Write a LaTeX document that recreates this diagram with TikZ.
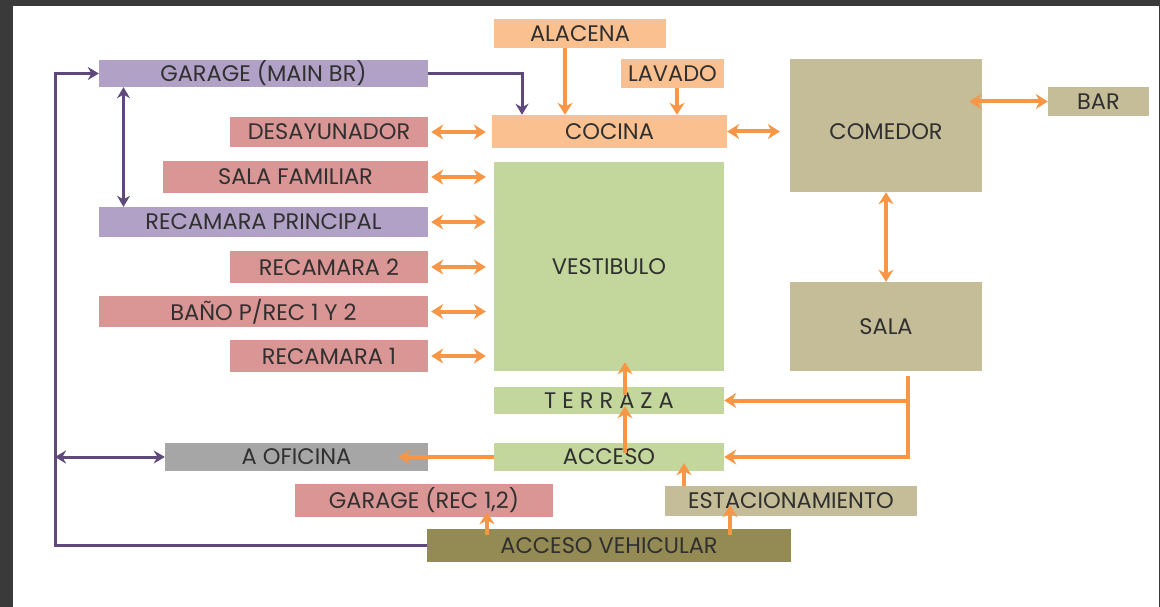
\documentclass[tikz,border=0pt]{standalone}
\usepackage{fontspec}
\setmainfont{Poppins}
\usetikzlibrary{arrows.meta,calc,positioning}

\definecolor{marco}{HTML}{3A3A3A}
\definecolor{lila}{HTML}{B2A1C7}
\definecolor{rosa}{HTML}{D99694}
\definecolor{naranja}{HTML}{FAC090}
\definecolor{verde}{HTML}{C3D69B}
\definecolor{arena}{HTML}{C4BD97}
\definecolor{gris}{HTML}{A6A6A6}
\definecolor{olivo}{HTML}{948A54}
\definecolor{flecha}{HTML}{F79646}
\definecolor{morado}{HTML}{5F497A}
\definecolor{letra}{HTML}{303030}

\tikzset{
  room/.style={rectangle, inner sep=0pt, text=letra, font=\fontsize{22.5}{22.5}\selectfont},
  oarr/.style={draw=flecha, line width=4pt, -{Stealth[length=12pt,width=15pt]}},
  obi/.style={oarr, {Stealth[length=12pt,width=15pt]}-{Stealth[length=12pt,width=15pt]}},
  parr/.style={draw=morado, line width=3pt, -{Stealth[length=11pt,width=13pt]}},
  pbi/.style={parr, {Stealth[length=11pt,width=13pt]}-{Stealth[length=11pt,width=13pt]}},
}

\begin{document}
\begin{tikzpicture}[x=1pt, y=-1pt]
    \useasboundingbox (0,0) rectangle (1160,607);
    \fill[marco] (0,0) rectangle (1160,607);
    \fill[white] (13,6) rectangle (1159,607);

    % left column
    \node[room, fill=lila,  minimum width=329pt, minimum height=27pt] (garagemain) at (263.5,73.5) {GARAGE (MAIN BR)};
    \node[room, fill=rosa,  minimum width=198pt, minimum height=30pt] (desayunador) at (329,132)   {DESAYUNADOR};
    \node[room, fill=rosa,  minimum width=265pt, minimum height=32pt] (salafam)    at (295.5,177)  {SALA FAMILIAR};
    \node[room, fill=lila,  minimum width=329pt, minimum height=30pt] (recprin)    at (263.5,222)  {RECAMARA PRINCIPAL};
    \node[room, fill=rosa,  minimum width=198pt, minimum height=32pt] (rec2)       at (329,267)    {RECAMARA 2};
    \node[room, fill=rosa,  minimum width=329pt, minimum height=31pt] (bano)       at (263.5,311.5) {BAÑO P/REC 1 Y 2};
    \node[room, fill=rosa,  minimum width=198pt, minimum height=32pt] (rec1)       at (329,356)    {RECAMARA 1};
    \node[room, fill=gris,  minimum width=263pt, minimum height=28pt] (oficina)    at (296.5,457)  {A OFICINA};
    \node[room, fill=rosa,  minimum width=258pt, minimum height=33pt] (garagerec)  at (424,500.5)  {GARAGE (REC 1,2)};

    % middle column
    \node[room, fill=naranja, minimum width=172pt, minimum height=29pt] (alacena)   at (580,33.5)   {ALACENA};
    \node[room, fill=naranja, minimum width=103pt, minimum height=29pt] (lavado)    at (672.5,73.5) {LAVADO};
    \node[room, fill=naranja, minimum width=235pt, minimum height=33pt] (cocina)    at (609.5,131.5) {COCINA};
    \node[room, fill=verde,   minimum width=230pt, minimum height=209pt] (vestibulo) at (609,266.5) {VESTIBULO};
    \node[room, fill=verde,   minimum width=230pt, minimum height=27pt] (terraza)   at (609,400.5)  {T E R R A Z A};
    \node[room, fill=verde,   minimum width=230pt, minimum height=28pt] (acceso)    at (609,457)    {ACCESO};
    \node[room, fill=olivo,   minimum width=364pt, minimum height=33pt] (accveh)    at (609,545.5)  {ACCESO VEHICULAR};
    \node[room, fill=arena,   minimum width=252pt, minimum height=30pt] (estac)     at (791,501)    {ESTACIONAMIENTO};

    % right column
    \node[room, fill=arena, minimum width=192pt, minimum height=133pt, text height=28pt, text depth=0pt] (comedor) at (886,125.5) {COMEDOR};
    \node[room, fill=arena, minimum width=192pt, minimum height=89pt]  (sala)    at (886,326.5)  {SALA};
    \node[room, fill=arena, minimum width=101pt, minimum height=29pt]  (bar)     at (1098.5,101.5) {BAR};

    \coordinate (lft) at (55,545.5);
    \coordinate (sbr) at (908,376);

    % purple links
    \draw[parr] (accveh.west) -- (lft) |- (garagemain.west);
    \draw[pbi]  (oficina.west -| lft) -- (oficina.west);
    \draw[parr] (garagemain.east) -| ([xshift=-87.5pt]cocina.north);
    \draw[pbi]  ([xshift=-140pt]garagemain.south) -- ([xshift=-140pt]recprin.north);

    % orange links
    \draw[oarr] ([xshift=-15pt]alacena.south) -- ([xshift=-15pt]alacena.south |- cocina.north);
    \draw[oarr] ([xshift=4.5pt]lavado.south) -- ([xshift=4.5pt]lavado.south |- cocina.north);
    \foreach \r in {desayunador, salafam, recprin, rec2, bano, rec1}
        \draw[obi, shorten <=3pt, shorten >=8pt] (\r.east) -- (\r.east -| vestibulo.west);
    \draw[obi, shorten >=10pt] (cocina.east) -- (cocina.east -| comedor.west);
    \draw[obi, shorten <=-13pt] (bar.west -| comedor.east) -- (bar.west);
    \draw[obi] (comedor.south) -- (sala.north);
    \draw[oarr] (sbr) |- (acceso.east);
    \draw[oarr] (terraza.east -| sbr) -- (terraza.east);
    \draw[oarr, shorten >=-30pt] (acceso.west) -- (oficina.east);
    \draw[oarr, shorten <=-10pt, shorten >=-8pt] ([xshift=16pt]acceso.north) -- ([xshift=16pt]terraza.south);
    \draw[oarr, shorten <=-8pt, shorten >=-9pt] ([xshift=16pt]terraza.north) -- ([xshift=16pt]terraza.north |- vestibulo.south);
    \draw[oarr, shorten >=-8pt] ([xshift=-107pt]estac.north) -- ([xshift=-107pt]estac.north |- acceso.south);
    \draw[oarr, shorten <=-6pt, shorten >=-11pt] ([xshift=121pt]accveh.north) -- ([xshift=121pt]accveh.north |- estac.south);
    \draw[oarr, shorten <=-6pt, shorten >=-5pt] ([xshift=-122pt]accveh.north) -- ([xshift=-122pt]accveh.north |- garagerec.south);
\end{tikzpicture}
\end{document}
